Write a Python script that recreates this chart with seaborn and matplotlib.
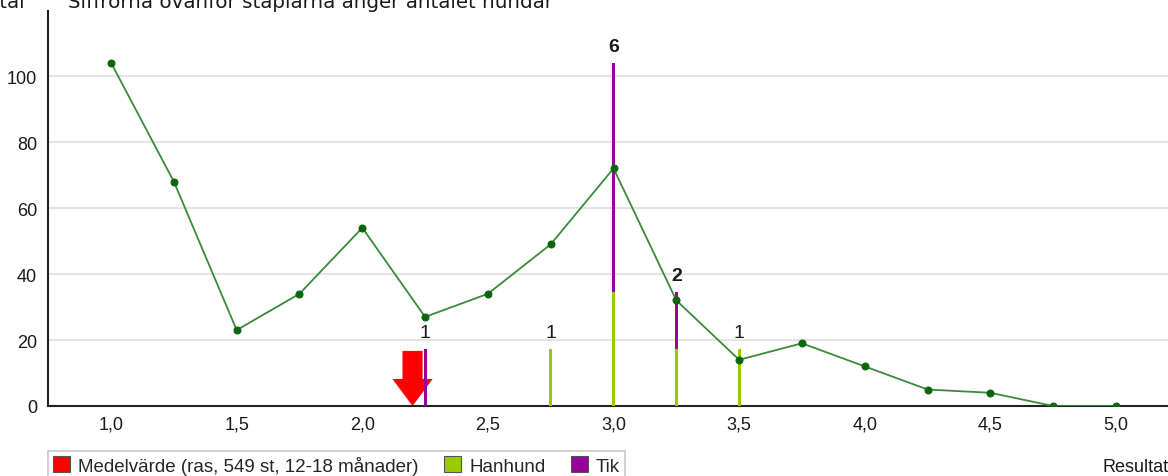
import numpy as np
import pandas as pd
import seaborn as sns
import matplotlib
matplotlib.use("Agg")
import matplotlib.pyplot as plt
from matplotlib.patches import Patch, ArrowStyle

# ---- data ----
result_x = [1.0, 1.25, 1.5, 1.75, 2.0, 2.25, 2.5, 2.75, 3.0, 3.25, 3.5, 3.75, 4.0, 4.25, 4.5, 4.75, 5.0]
breed_count = [104, 68, 23, 34, 54, 27, 34, 49, 72, 32, 14, 19, 12, 5, 4, 0, 0]

bar_x = [2.25, 2.75, 3.0, 3.25, 3.5]
hanhund = [0, 1, 2, 1, 1]
tik = [1, 0, 4, 1, 0]

mean_value = 2.2
x_ticks = [1.0, 1.5, 2.0, 2.5, 3.0, 3.5, 4.0, 4.5, 5.0]
y_ticks = [0, 20, 40, 60, 80, 100]

legend_labels = ["Medelvärde (ras, 549 st, 12-18 månader)", "Hanhund", "Tik"]
title_text = "Siffrorna ovanför staplarna anger antalet hundar"
ylabel_text = "Antal"
xlabel_text = "Resultat"

# ---- style ----
sns.set_theme(style="white")
plt.rcParams['font.family'] = ['Liberation Sans', 'DejaVu Sans']

W, H = 1168, 477
fig = plt.figure(figsize=(W / 100, H / 100), dpi=100)
ax = fig.add_axes([48 / W, 1 - 407 / H, 1 - 48 / W, (407 - 12) / H])

col_line = "#3a8a3a"
col_marker = "#0b650b"
col_han = "#99cc00"
col_tik = "#990099"
col_red = "#ff0000"
txt_col = "#1a1a1a"

# scale bar counts so the max stack matches the max of the line
totals = [h + t for h, t in zip(hanhund, tik)]
scale = max(breed_count) / max(totals)

# gridlines
for yv in y_ticks[1:]:
    ax.axhline(yv, color="#e4e4e4", lw=1.6, zorder=0)

# mean arrow
ax.annotate("", xy=(mean_value, 0), xytext=(mean_value, 16.7),
            arrowprops=dict(arrowstyle=ArrowStyle.Simple(head_length=19.5, head_width=29, tail_width=14.5),
                            mutation_scale=1, color=col_red, lw=0, shrinkA=0, shrinkB=0),
            zorder=2)

# stacked bars
bw = 0.012
han_vals = np.array(hanhund) * scale
tik_vals = np.array(tik) * scale
ax.bar(bar_x, han_vals, width=bw, color=col_han, zorder=3, linewidth=0)
ax.bar(bar_x, tik_vals, width=bw, bottom=han_vals, color=col_tik, zorder=3, linewidth=0)

for x, h, t in zip(bar_x, hanhund, tik):
    tot = h + t
    ax.text(x, tot * scale + 2.3, str(tot), ha="center", va="bottom", fontsize=14,
            color=txt_col, fontweight="bold" if tot > 1 else "normal", zorder=5)

# line
df = pd.DataFrame({"Resultat": result_x, "Antal": breed_count})
sns.lineplot(data=df, x="Resultat", y="Antal", ax=ax, color=col_line, lw=1.3,
             marker="o", markersize=5, markerfacecolor=col_marker, markeredgecolor=col_marker,
             zorder=4)

ax.set_xlim(0.749, 5.207)
ax.set_ylim(0, 119.7)
ax.set_xticks(x_ticks)
ax.set_xticklabels([f"{v:.1f}".replace(".", ",") for v in x_ticks])
ax.set_yticks(y_ticks)
ax.set_xlabel("")
ax.set_ylabel("")
ax.tick_params(axis="x", direction="in", length=5, width=1, color="#333333",
               labelsize=13, labelcolor=txt_col, pad=7)
ax.tick_params(axis="y", length=0, labelsize=13, labelcolor=txt_col, pad=8)
for s in ["top", "right"]:
    ax.spines[s].set_visible(False)
for s in ["left", "bottom"]:
    ax.spines[s].set_color("#222222")
    ax.spines[s].set_linewidth(1.5)

# texts
fig.text(25 / W, 1 - 8 / H, ylabel_text, ha="right", va="baseline", fontsize=14.3,
         color=txt_col, family=["DejaVu Sans"])
fig.text(68 / W, 1 - 8 / H, title_text, ha="left", va="baseline", fontsize=14.3,
         color=txt_col, family=["DejaVu Sans"])
fig.text(1102 / W, 1 - 468 / H, xlabel_text, ha="left", va="center", fontsize=13, color=txt_col)

handles = [Patch(facecolor=c, edgecolor="#555555", linewidth=0.8) for c in (col_red, col_han, col_tik)]
leg = fig.legend(handles, legend_labels, loc="upper left", bbox_to_anchor=(48 / W, 1 - 452 / H),
                 ncol=3, frameon=True, fontsize=13.5, handlelength=0.9, handleheight=0.9,
                 handletextpad=0.45, columnspacing=1.35, borderpad=0.25, borderaxespad=0,
                 fancybox=False, edgecolor="#bbbbbb")
leg.get_frame().set_linewidth(1.2)

fig.savefig("out.png", dpi=100)
